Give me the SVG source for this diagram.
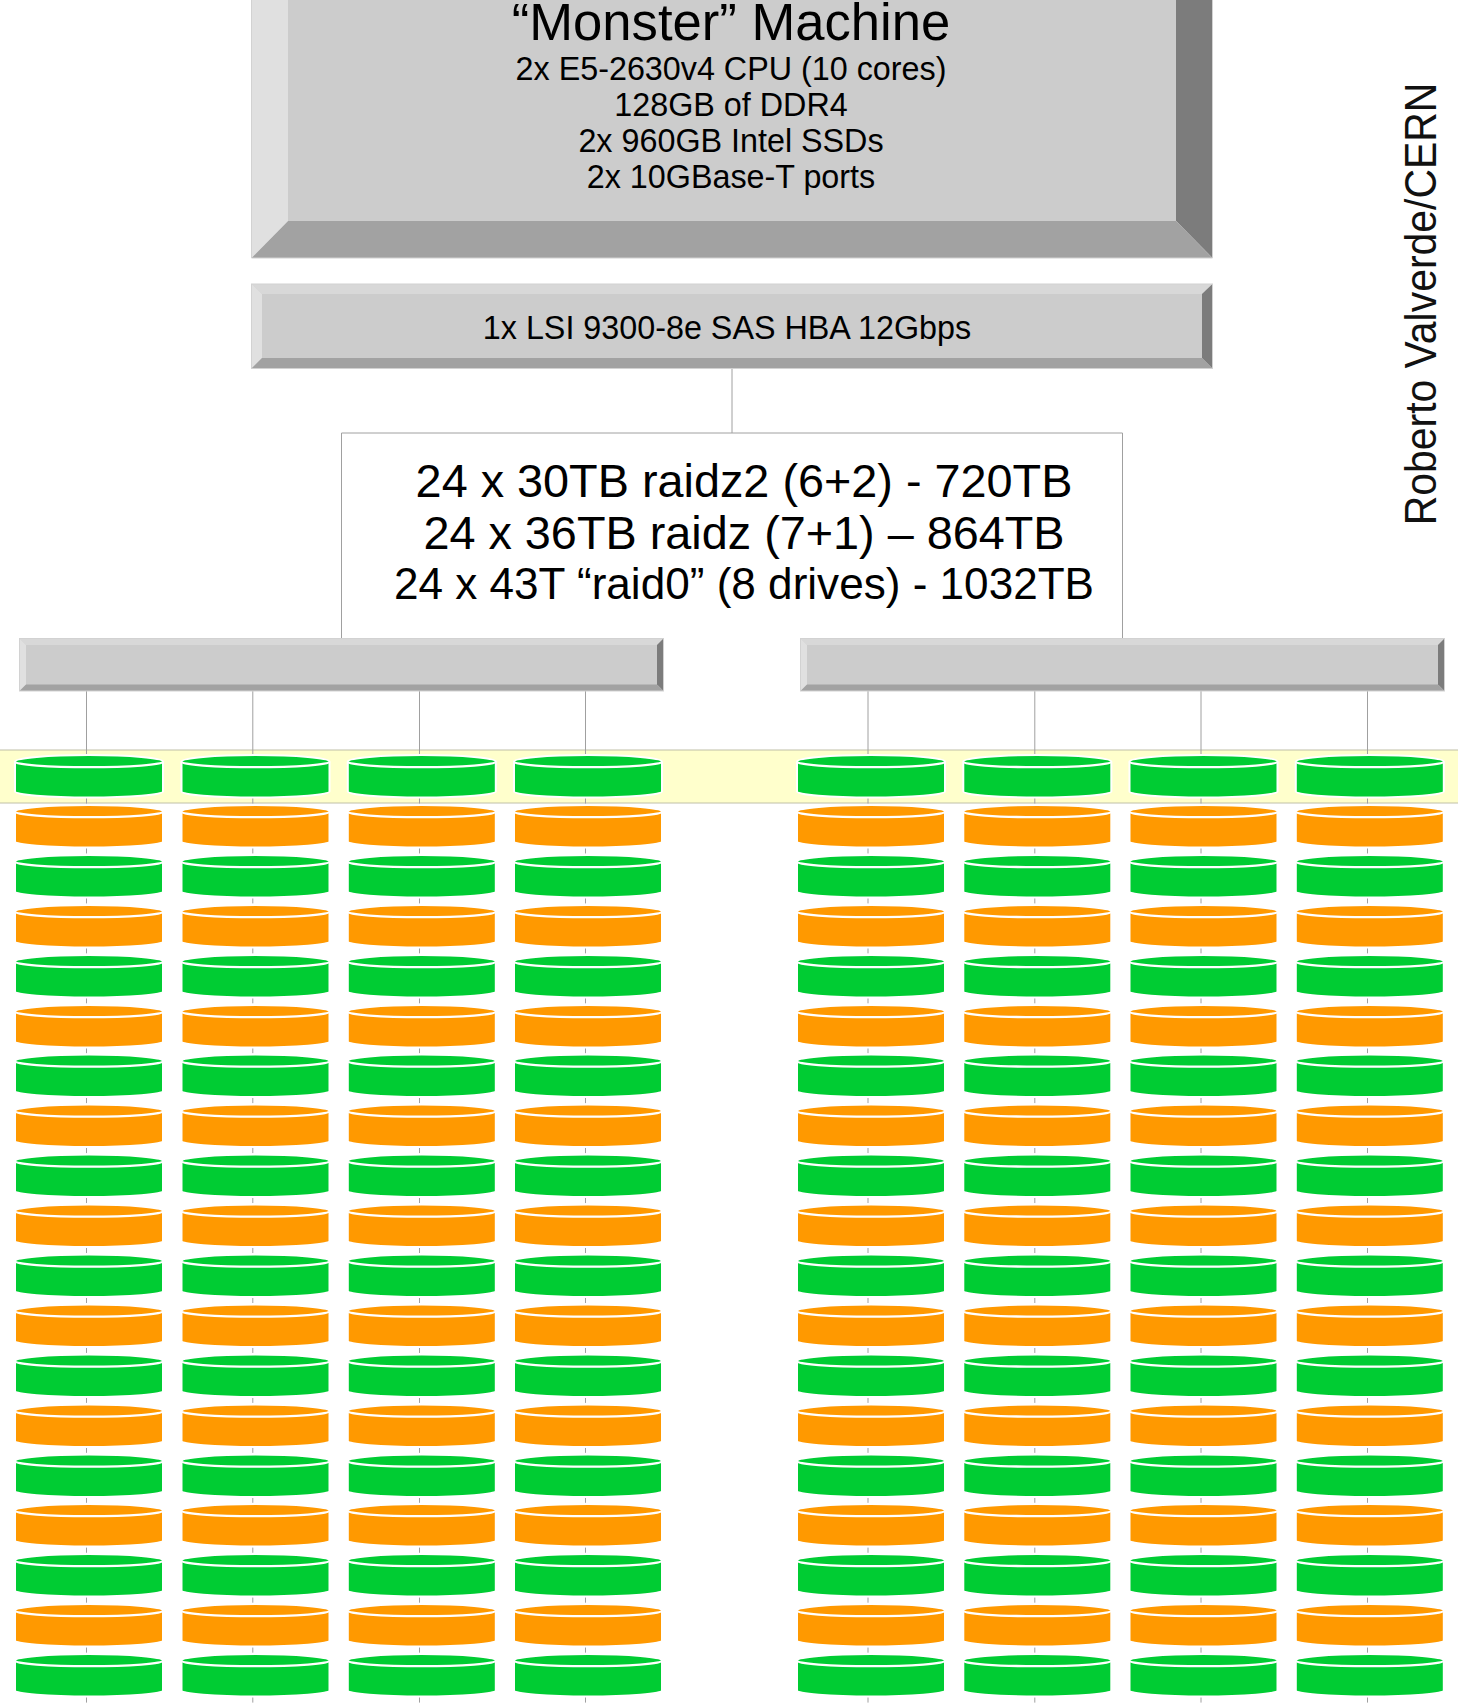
<svg xmlns="http://www.w3.org/2000/svg" xmlns:xlink="http://www.w3.org/1999/xlink" width="1458" height="1704" viewBox="0 0 1458 1704">
<style>
text{font-family:"Liberation Sans",Arial,sans-serif;fill:#000;text-anchor:middle}
.face{fill:#ccc}.l{fill:#e0e0e0}.t{fill:#d8d8d8}.b{fill:#a2a2a2}.r{fill:#7c7c7c}
.edge{fill:none;stroke:#d2d2d2;stroke-width:1}
.cn{fill:none;stroke:#a0a0a0;stroke-width:1}
.dash{fill:none;stroke:#a0a0a0;stroke-width:1;stroke-dasharray:5.5 44.45}
.g{fill:#00cc33}.o{fill:#ff9900}
.s{font-size:32.3px}
.m{font-size:46.8px}
</style>
<defs>
<g id="disk"><path d="M-1 5.7A74 6.7 0 0 1 147 5.7V35.5A74 6 0 0 1 -1 35.5Z" stroke="#fff" stroke-width="2"/><path d="M-1 5.7A74 5.5 0 0 0 147 5.7" fill="none" stroke="#fff" stroke-width="2.3"/></g>
</defs>
<rect width="1458" height="1704" fill="#fff"/>
<rect id="highlight" x="-2" y="750" width="1462" height="53" fill="#ffffcc" stroke="#c0c0a8" stroke-width="1"/>
<g id="connectors">
<path class="cn" d="M732 368.5V433M341.5 638V433H1122.5V638"/>
<path class="cn" d="M86.5 691V754M252.8 691V754M419.5 691V754M585.5 691V754M868 691V754M1034.8 691V754M1201 691V754M1367.5 691V754"/>
<path class="dash" d="M86.5 798V1704M252.8 798V1704M419.5 798V1704M585.5 798V1704M868 798V1704M1034.8 798V1704M1201 798V1704M1367.5 798V1704"/>
</g>
<g id="machine">
<polygon class="face" points="288,-30 1176,-30 1176,221 288,221"/>
<polygon class="l" points="251.5,-60 288,-30 288,221 251.5,258"/>
<polygon class="r" points="1212.5,-60 1176,-30 1176,221 1212.5,258"/>
<polygon class="b" points="251.5,258 288,221 1176,221 1212.5,258"/>
<path class="edge" d="M251.5 0V258H1212.5V0"/>
<text x="731" y="40" font-size="52.6">“Monster” Machine</text>
<text class="s" x="731" y="80">2x E5-2630v4 CPU (10 cores)</text>
<text class="s" x="731" y="116">128GB of DDR4</text>
<text class="s" x="731" y="152">2x 960GB Intel SSDs</text>
<text class="s" x="731" y="188">2x 10GBase-T ports</text>
</g>
<g id="hba">
<rect class="face" x="251.5" y="284" width="961" height="84.5"/>
<polygon class="t" points="251.5,284 1212.5,284 1202,294 262,294"/>
<polygon class="l" points="251.5,284 262,294 262,358 251.5,368.5"/>
<polygon class="r" points="1212.5,284 1202,294 1202,358 1212.5,368.5"/>
<polygon class="b" points="251.5,368.5 262,358 1202,358 1212.5,368.5"/>
<rect class="edge" x="251.5" y="284" width="961" height="84.5"/>
<text class="s" x="727" y="338.5">1x LSI 9300-8e SAS HBA 12Gbps</text>
</g>
<g id="raid-label">
<text class="m" x="744" y="496.7">24 x 30TB raidz2 (6+2) - 720TB</text>
<text class="m" x="744" y="549">24 x 36TB raidz (7+1) – 864TB</text>
<text x="744" y="599" font-size="44.1">24 x 43T “raid0” (8 drives) - 1032TB</text>
</g>
<g id="bar-left">
<rect class="face" x="19.5" y="638.5" width="644" height="52.5"/>
<polygon class="t" points="19.5,638.5 663.5,638.5 657,645 26,645"/>
<polygon class="l" points="19.5,638.5 26,645 26,684.5 19.5,691"/>
<polygon class="r" points="663.5,638.5 657,645 657,684.5 663.5,691"/>
<polygon class="b" points="19.5,691 26,684.5 657,684.5 663.5,691"/>
<rect class="edge" x="19.5" y="638.5" width="644" height="52.5"/>
</g>
<g id="bar-right">
<rect class="face" x="800.5" y="638.5" width="644" height="52.5"/>
<polygon class="t" points="800.5,638.5 1444.5,638.5 1438,645 807,645"/>
<polygon class="l" points="800.5,638.5 807,645 807,684.5 800.5,691"/>
<polygon class="r" points="1444.5,638.5 1438,645 1438,684.5 1444.5,691"/>
<polygon class="b" points="800.5,691 807,684.5 1438,684.5 1444.5,691"/>
<rect class="edge" x="800.5" y="638.5" width="644" height="52.5"/>
</g>
<g id="author"><text transform="translate(1436 304) rotate(-90) scale(0.93 1)" font-size="44" style="fill:#111">Roberto Valverde/CERN</text></g>
<g id="disks-c1">
<use class="g" xlink:href="#disk" x="16" y="756"/><use class="o" xlink:href="#disk" x="16" y="806"/><use class="g" xlink:href="#disk" x="16" y="856"/><use class="o" xlink:href="#disk" x="16" y="906"/><use class="g" xlink:href="#disk" x="16" y="956"/><use class="o" xlink:href="#disk" x="16" y="1006"/><use class="g" xlink:href="#disk" x="16" y="1055.5"/><use class="o" xlink:href="#disk" x="16" y="1105.5"/><use class="g" xlink:href="#disk" x="16" y="1155.5"/><use class="o" xlink:href="#disk" x="16" y="1205.5"/><use class="g" xlink:href="#disk" x="16" y="1255.5"/><use class="o" xlink:href="#disk" x="16" y="1305.5"/><use class="g" xlink:href="#disk" x="16" y="1355.5"/><use class="o" xlink:href="#disk" x="16" y="1405.5"/><use class="g" xlink:href="#disk" x="16" y="1455.5"/><use class="o" xlink:href="#disk" x="16" y="1505"/><use class="g" xlink:href="#disk" x="16" y="1555"/><use class="o" xlink:href="#disk" x="16" y="1605"/><use class="g" xlink:href="#disk" x="16" y="1655"/>
</g>
<g id="disks-c2">
<use class="g" xlink:href="#disk" x="182.5" y="756"/><use class="o" xlink:href="#disk" x="182.5" y="806"/><use class="g" xlink:href="#disk" x="182.5" y="856"/><use class="o" xlink:href="#disk" x="182.5" y="906"/><use class="g" xlink:href="#disk" x="182.5" y="956"/><use class="o" xlink:href="#disk" x="182.5" y="1006"/><use class="g" xlink:href="#disk" x="182.5" y="1055.5"/><use class="o" xlink:href="#disk" x="182.5" y="1105.5"/><use class="g" xlink:href="#disk" x="182.5" y="1155.5"/><use class="o" xlink:href="#disk" x="182.5" y="1205.5"/><use class="g" xlink:href="#disk" x="182.5" y="1255.5"/><use class="o" xlink:href="#disk" x="182.5" y="1305.5"/><use class="g" xlink:href="#disk" x="182.5" y="1355.5"/><use class="o" xlink:href="#disk" x="182.5" y="1405.5"/><use class="g" xlink:href="#disk" x="182.5" y="1455.5"/><use class="o" xlink:href="#disk" x="182.5" y="1505"/><use class="g" xlink:href="#disk" x="182.5" y="1555"/><use class="o" xlink:href="#disk" x="182.5" y="1605"/><use class="g" xlink:href="#disk" x="182.5" y="1655"/>
</g>
<g id="disks-c3">
<use class="g" xlink:href="#disk" x="348.8" y="756"/><use class="o" xlink:href="#disk" x="348.8" y="806"/><use class="g" xlink:href="#disk" x="348.8" y="856"/><use class="o" xlink:href="#disk" x="348.8" y="906"/><use class="g" xlink:href="#disk" x="348.8" y="956"/><use class="o" xlink:href="#disk" x="348.8" y="1006"/><use class="g" xlink:href="#disk" x="348.8" y="1055.5"/><use class="o" xlink:href="#disk" x="348.8" y="1105.5"/><use class="g" xlink:href="#disk" x="348.8" y="1155.5"/><use class="o" xlink:href="#disk" x="348.8" y="1205.5"/><use class="g" xlink:href="#disk" x="348.8" y="1255.5"/><use class="o" xlink:href="#disk" x="348.8" y="1305.5"/><use class="g" xlink:href="#disk" x="348.8" y="1355.5"/><use class="o" xlink:href="#disk" x="348.8" y="1405.5"/><use class="g" xlink:href="#disk" x="348.8" y="1455.5"/><use class="o" xlink:href="#disk" x="348.8" y="1505"/><use class="g" xlink:href="#disk" x="348.8" y="1555"/><use class="o" xlink:href="#disk" x="348.8" y="1605"/><use class="g" xlink:href="#disk" x="348.8" y="1655"/>
</g>
<g id="disks-c4">
<use class="g" xlink:href="#disk" x="515" y="756"/><use class="o" xlink:href="#disk" x="515" y="806"/><use class="g" xlink:href="#disk" x="515" y="856"/><use class="o" xlink:href="#disk" x="515" y="906"/><use class="g" xlink:href="#disk" x="515" y="956"/><use class="o" xlink:href="#disk" x="515" y="1006"/><use class="g" xlink:href="#disk" x="515" y="1055.5"/><use class="o" xlink:href="#disk" x="515" y="1105.5"/><use class="g" xlink:href="#disk" x="515" y="1155.5"/><use class="o" xlink:href="#disk" x="515" y="1205.5"/><use class="g" xlink:href="#disk" x="515" y="1255.5"/><use class="o" xlink:href="#disk" x="515" y="1305.5"/><use class="g" xlink:href="#disk" x="515" y="1355.5"/><use class="o" xlink:href="#disk" x="515" y="1405.5"/><use class="g" xlink:href="#disk" x="515" y="1455.5"/><use class="o" xlink:href="#disk" x="515" y="1505"/><use class="g" xlink:href="#disk" x="515" y="1555"/><use class="o" xlink:href="#disk" x="515" y="1605"/><use class="g" xlink:href="#disk" x="515" y="1655"/>
</g>
<g id="disks-c5">
<use class="g" xlink:href="#disk" x="798" y="756"/><use class="o" xlink:href="#disk" x="798" y="806"/><use class="g" xlink:href="#disk" x="798" y="856"/><use class="o" xlink:href="#disk" x="798" y="906"/><use class="g" xlink:href="#disk" x="798" y="956"/><use class="o" xlink:href="#disk" x="798" y="1006"/><use class="g" xlink:href="#disk" x="798" y="1055.5"/><use class="o" xlink:href="#disk" x="798" y="1105.5"/><use class="g" xlink:href="#disk" x="798" y="1155.5"/><use class="o" xlink:href="#disk" x="798" y="1205.5"/><use class="g" xlink:href="#disk" x="798" y="1255.5"/><use class="o" xlink:href="#disk" x="798" y="1305.5"/><use class="g" xlink:href="#disk" x="798" y="1355.5"/><use class="o" xlink:href="#disk" x="798" y="1405.5"/><use class="g" xlink:href="#disk" x="798" y="1455.5"/><use class="o" xlink:href="#disk" x="798" y="1505"/><use class="g" xlink:href="#disk" x="798" y="1555"/><use class="o" xlink:href="#disk" x="798" y="1605"/><use class="g" xlink:href="#disk" x="798" y="1655"/>
</g>
<g id="disks-c6">
<use class="g" xlink:href="#disk" x="964.3" y="756"/><use class="o" xlink:href="#disk" x="964.3" y="806"/><use class="g" xlink:href="#disk" x="964.3" y="856"/><use class="o" xlink:href="#disk" x="964.3" y="906"/><use class="g" xlink:href="#disk" x="964.3" y="956"/><use class="o" xlink:href="#disk" x="964.3" y="1006"/><use class="g" xlink:href="#disk" x="964.3" y="1055.5"/><use class="o" xlink:href="#disk" x="964.3" y="1105.5"/><use class="g" xlink:href="#disk" x="964.3" y="1155.5"/><use class="o" xlink:href="#disk" x="964.3" y="1205.5"/><use class="g" xlink:href="#disk" x="964.3" y="1255.5"/><use class="o" xlink:href="#disk" x="964.3" y="1305.5"/><use class="g" xlink:href="#disk" x="964.3" y="1355.5"/><use class="o" xlink:href="#disk" x="964.3" y="1405.5"/><use class="g" xlink:href="#disk" x="964.3" y="1455.5"/><use class="o" xlink:href="#disk" x="964.3" y="1505"/><use class="g" xlink:href="#disk" x="964.3" y="1555"/><use class="o" xlink:href="#disk" x="964.3" y="1605"/><use class="g" xlink:href="#disk" x="964.3" y="1655"/>
</g>
<g id="disks-c7">
<use class="g" xlink:href="#disk" x="1130.5" y="756"/><use class="o" xlink:href="#disk" x="1130.5" y="806"/><use class="g" xlink:href="#disk" x="1130.5" y="856"/><use class="o" xlink:href="#disk" x="1130.5" y="906"/><use class="g" xlink:href="#disk" x="1130.5" y="956"/><use class="o" xlink:href="#disk" x="1130.5" y="1006"/><use class="g" xlink:href="#disk" x="1130.5" y="1055.5"/><use class="o" xlink:href="#disk" x="1130.5" y="1105.5"/><use class="g" xlink:href="#disk" x="1130.5" y="1155.5"/><use class="o" xlink:href="#disk" x="1130.5" y="1205.5"/><use class="g" xlink:href="#disk" x="1130.5" y="1255.5"/><use class="o" xlink:href="#disk" x="1130.5" y="1305.5"/><use class="g" xlink:href="#disk" x="1130.5" y="1355.5"/><use class="o" xlink:href="#disk" x="1130.5" y="1405.5"/><use class="g" xlink:href="#disk" x="1130.5" y="1455.5"/><use class="o" xlink:href="#disk" x="1130.5" y="1505"/><use class="g" xlink:href="#disk" x="1130.5" y="1555"/><use class="o" xlink:href="#disk" x="1130.5" y="1605"/><use class="g" xlink:href="#disk" x="1130.5" y="1655"/>
</g>
<g id="disks-c8">
<use class="g" xlink:href="#disk" x="1296.8" y="756"/><use class="o" xlink:href="#disk" x="1296.8" y="806"/><use class="g" xlink:href="#disk" x="1296.8" y="856"/><use class="o" xlink:href="#disk" x="1296.8" y="906"/><use class="g" xlink:href="#disk" x="1296.8" y="956"/><use class="o" xlink:href="#disk" x="1296.8" y="1006"/><use class="g" xlink:href="#disk" x="1296.8" y="1055.5"/><use class="o" xlink:href="#disk" x="1296.8" y="1105.5"/><use class="g" xlink:href="#disk" x="1296.8" y="1155.5"/><use class="o" xlink:href="#disk" x="1296.8" y="1205.5"/><use class="g" xlink:href="#disk" x="1296.8" y="1255.5"/><use class="o" xlink:href="#disk" x="1296.8" y="1305.5"/><use class="g" xlink:href="#disk" x="1296.8" y="1355.5"/><use class="o" xlink:href="#disk" x="1296.8" y="1405.5"/><use class="g" xlink:href="#disk" x="1296.8" y="1455.5"/><use class="o" xlink:href="#disk" x="1296.8" y="1505"/><use class="g" xlink:href="#disk" x="1296.8" y="1555"/><use class="o" xlink:href="#disk" x="1296.8" y="1605"/><use class="g" xlink:href="#disk" x="1296.8" y="1655"/>
</g>
</svg>
